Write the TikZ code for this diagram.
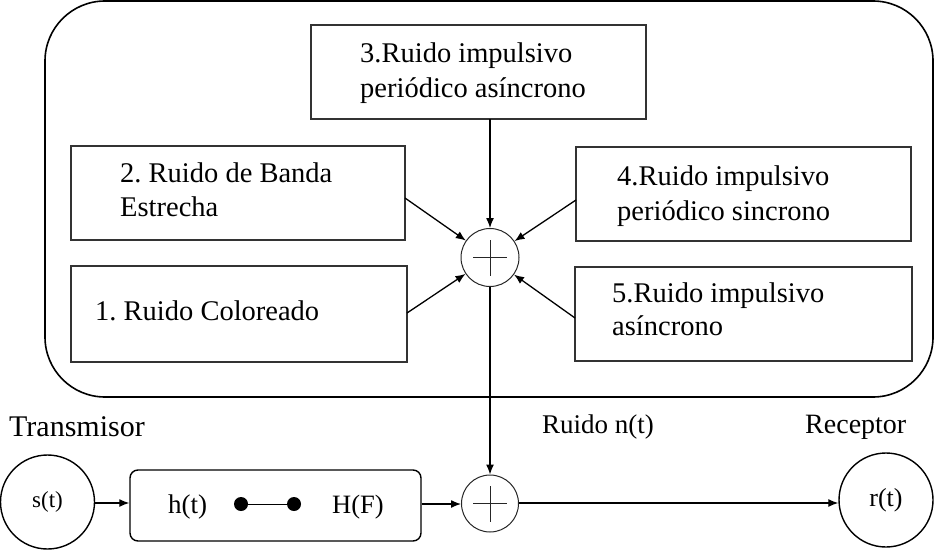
\documentclass[tikz,border=0pt]{standalone}
\usepackage{fontspec}
\setmainfont{Liberation Serif}
\usetikzlibrary{arrows.meta}
\frenchspacing
\begin{document}
\begin{tikzpicture}[x=1pt,y=-1pt,
  noisebox/.style={draw=black!80,line width=1.2pt,rectangle,inner sep=0pt},
  boxtext/.style={anchor=base west,inner sep=0pt,font=\fontsize{28.5}{34}\selectfont},
  lbl/.style={anchor=base west,inner sep=0pt},
  sumnode/.style={draw=black!85,circle,line width=1pt,minimum size=58pt,inner sep=0pt},
  signode/.style={draw=black,circle,line width=1.4pt,inner sep=0pt},
  arr/.style={line width=1.3pt,-{Latex[length=10pt,width=8pt]}},
  plusline/.style={line width=0.8pt,draw=black!85},
  dot/.style={circle,fill=black,minimum size=14pt,inner sep=0pt}]
\useasboundingbox (0,0) rectangle (936,551);
% outer frame
\draw[line width=1.6pt,rounded corners=60pt] (45,1) rectangle (933,397);
% noise boxes
\node[noisebox,minimum width=335pt,minimum height=94pt] (b3) at (478.5,72) {};
\node[noisebox,minimum width=334pt,minimum height=94pt] (b2) at (238,193) {};
\node[noisebox,minimum width=336pt,minimum height=96pt] (b1) at (239,314) {};
\node[noisebox,minimum width=335pt,minimum height=94pt] (b4) at (743.5,194) {};
\node[noisebox,minimum width=337pt,minimum height=94pt] (b5) at (743.5,314) {};
% texts
\node[boxtext] (t3a) at (360,63) {3.Ruido impulsivo};
\node[boxtext] (t3b) at (360,97) {periódico asíncrono};
\node[boxtext] (t2a) at (120,182) {2. Ruido de Banda};
\node[boxtext] (t2b) at (120,216) {Estrecha};
\node[boxtext] (t1) at (95,320) {1. Ruido Coloreado};
\node[boxtext] (t4a) at (617,185) {4.Ruido impulsivo};
\node[boxtext] (t4b) at (617,220) {periódico sincrono};
\node[boxtext] (t5a) at (612,302) {5.Ruido impulsivo};
\node[boxtext] (t5b) at (612,335) {asíncrono};
% first summing node
\node[sumnode] (s1) at (490,257.5) {};
\draw[plusline] ([xshift=-17pt]s1.center) -- ([xshift=17pt]s1.center);
\draw[plusline] ([yshift=-18pt]s1.center) -- ([yshift=18pt]s1.center);
% arrows into sum 1
\coordinate (c3) at (490,119);
\coordinate (c2) at (405,198);
\coordinate (c1) at (407,313);
\coordinate (c4) at (576,200);
\coordinate (c5) at (575,318);
\draw[arr] (c3) -- (s1);
\draw[arr] (c2) -- (s1);
\draw[arr] (c1) -- (s1);
\draw[arr] (c4) -- (s1);
\draw[arr] (c5) -- (s1);
% bottom chain
\node[lbl,font=\fontsize{30}{34}\selectfont] (tx) at (9,436) {Transmisor};
\node[lbl,font=\fontsize{27}{32}\selectfont] (rn) at (542,433) {Ruido n(t)};
\node[lbl,font=\fontsize{28}{32}\selectfont] (rc) at (805,433) {Receptor};
\node[signode,minimum size=94pt,font=\fontsize{23}{28}\selectfont] (st) at (47.5,502) {s(t)};
\node[signode,minimum size=94pt,font=\fontsize{26}{30}\selectfont] (rt) at (886,500) {r(t)};
\node[draw=black,line width=1.4pt,rounded corners=8pt,minimum width=291pt,minimum height=71pt,inner sep=0pt] (hf) at (275.5,505.5) {};
\node[lbl,font=\fontsize{27}{32}\selectfont] (ht) at (168,513) {h(t)};
\node[lbl,font=\fontsize{26.5}{32}\selectfont] (HF) at (332,513) {H(F)};
\node[dot] (d1) at (241,504) {};
\node[dot] (d2) at (294,504) {};
\draw[line width=0.8pt] (d1) -- (d2);
\node[sumnode,minimum size=57pt] (s2) at (490,503.5) {};
\draw[plusline] ([xshift=-17pt]s2.center) -- ([xshift=17pt]s2.center);
\draw[plusline] ([yshift=-18pt]s2.center) -- ([yshift=18pt]s2.center);
\draw[arr] (s1) -- (s2);
\draw[arr] (st.east |- 0,503) -- (hf.west |- 0,503);
\draw[arr] (hf.east |- 0,504) -- (s2.west |- 0,504);
\draw[arr] (s2.east |- 0,503) -- (rt.west |- 0,503);
\end{tikzpicture}
\end{document}
